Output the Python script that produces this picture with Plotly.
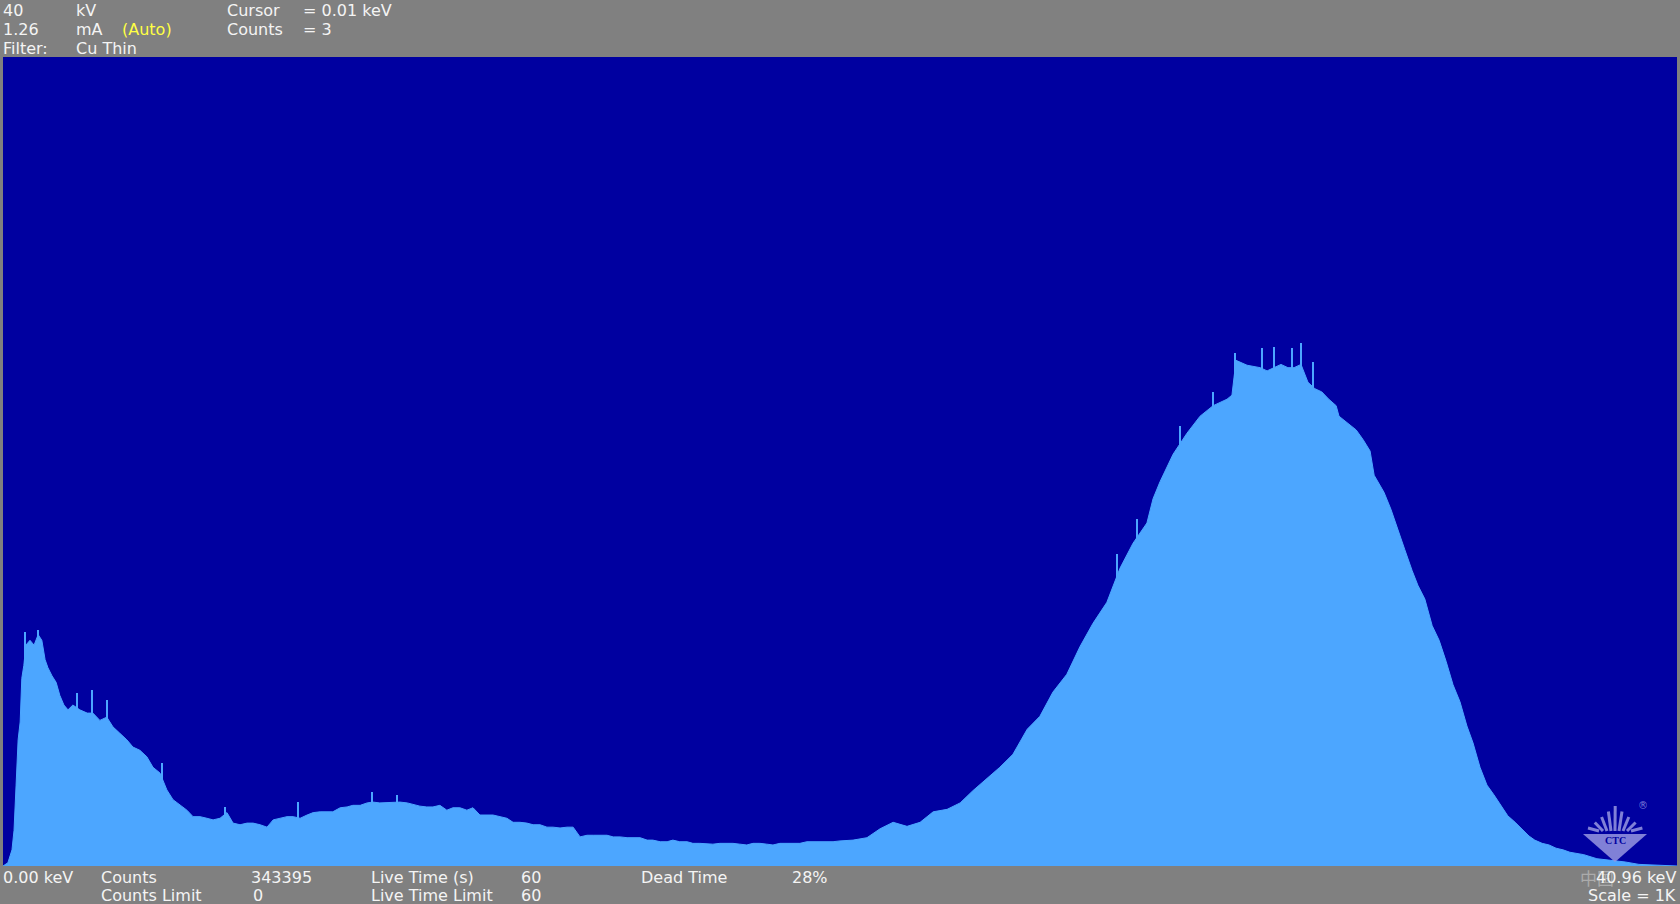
import plotly.graph_objects as go

# ---------------- data (energy in keV, counts per channel) -------------
kev_low = [0.00, 0.12, 0.22, 0.27, 0.32, 0.37, 0.42, 0.46, 0.51, 0.56, 0.66, 0.76, 0.86, 0.95,
           1.03, 1.10, 1.20, 1.30, 1.39, 1.49, 1.59, 1.71, 1.88, 2.06, 2.20, 2.37, 2.54, 2.69,
           2.86, 3.03, 3.18, 3.35, 3.52, 3.67, 3.84, 4.01, 4.16, 4.33, 4.50, 4.65, 4.82, 4.99,
           5.14, 5.31, 5.48, 5.63, 5.80, 5.97, 6.12, 6.29, 6.46, 6.61, 6.78, 6.95, 7.10, 7.27,
           7.44, 7.59, 7.76, 8.07, 8.25, 8.42, 8.56, 8.74, 8.91, 9.05, 9.22, 9.54, 9.71, 9.89]
counts_low = [0, 4, 20, 44, 100, 156, 178, 232, 248, 273, 279, 273, 286, 279,
              255, 245, 235, 227, 211, 199, 193, 199, 193, 189, 189, 180, 184, 172,
              164, 156, 147, 143, 135, 122, 115, 94, 82, 75, 69, 61, 61, 59,
              57, 59, 66, 53, 51, 53, 53, 51, 48, 57, 59, 61, 61, 59,
              63, 66, 67, 67, 72, 73, 75, 75, 78, 79, 78, 79, 79, 78]

kev_mid = [10.20, 10.37, 10.52, 10.69, 10.86, 11.01, 11.18, 11.35, 11.50, 11.67, 11.84, 11.99,
           12.16, 12.33, 12.48, 12.65, 12.82, 12.97, 13.14, 13.31, 13.46, 13.63, 13.80, 13.95,
           14.12, 14.29, 14.44, 14.61, 14.78, 14.93, 15.10, 15.27, 15.41, 15.59, 15.76, 15.90,
           16.08, 16.25, 16.39, 16.56, 16.74, 16.88, 17.05, 17.37, 17.54, 17.71, 17.86, 18.03,
           18.20, 18.35, 18.52, 18.69, 18.84, 19.01, 19.33, 19.50, 19.67, 19.99, 20.31, 20.48]
counts_mid = [74, 73, 73, 75, 69, 72, 72, 69, 72, 63, 63, 63,
              61, 59, 54, 54, 53, 51, 51, 48, 48, 47, 48, 48,
              36, 38, 38, 38, 38, 36, 36, 35, 35, 35, 32, 32,
              30, 30, 32, 30, 30, 28, 28, 27, 28, 28, 28, 27,
              26, 28, 28, 27, 26, 28, 28, 28, 30, 30, 30, 31]

kev_high = [20.80, 21.14, 21.46, 21.78, 22.12, 22.44, 22.76, 23.10, 23.42, 23.73, 24.08, 24.39,
            24.71, 25.06, 25.37, 25.69, 26.03, 26.35, 26.67, 27.01, 27.33, 27.65, 27.99, 28.14,
            28.31, 28.63, 28.97, 29.29, 29.61, 29.95, 30.07, 30.17, 30.44, 30.76, 30.93, 31.10,
            31.27, 31.44, 31.59, 31.76, 31.93, 32.10, 32.27, 32.44, 32.62, 32.69, 32.96, 33.11,
            33.28, 33.45, 33.55, 33.79, 33.96, 34.13, 34.30, 34.48, 34.62, 34.79, 34.97, 35.14,
            35.31, 35.48, 35.65, 35.82, 35.97, 36.14, 36.31, 36.48, 36.65, 36.82, 37.00, 37.17,
            37.34, 37.48, 37.66, 37.83, 38.00, 38.17, 38.34, 38.68, 39.00, 39.34, 39.69, 40.03,
            40.42, 40.96]
counts_high = [32, 35, 46, 54, 49, 54, 67, 70, 78, 93, 109, 122,
               138, 169, 185, 215, 237, 271, 300, 326, 368, 399, 424, 454,
               475, 509, 535, 556, 569, 577, 582, 625, 619, 616, 612, 616,
               620, 616, 616, 620, 598, 590, 586, 577, 569, 556, 545, 539,
               527, 513, 483, 462, 441, 415, 391, 365, 347, 330, 297, 279,
               253, 224, 203, 173, 152, 122, 100, 88, 75, 62, 54, 46,
               37, 32, 28, 26, 22, 20, 17, 14, 9, 7, 5, 2,
               1, 0]

# single noisy channels that stick out above the envelope
spike_kev = [0.54, 0.86, 1.81, 2.18, 2.54, 3.89, 5.43, 7.22, 9.03, 9.64,
             27.26, 27.75, 28.80, 29.61, 30.14, 30.80, 31.10, 31.54, 31.76, 32.05]
spike_counts = [289, 292, 214, 218, 205, 127, 73, 79, 91, 88,
                386, 429, 544, 586, 634, 640, 641, 640, 646, 623]

energy = kev_low + kev_mid + kev_high
counts = counts_low + counts_mid + counts_high

# header / footer text
header_rows = [
    [("40", "w"), ("kV", "w"), ("Cursor", "w"), ("= 0.01 keV", "w")],
    [("1.26", "w"), ("mA", "w"), ("(Auto)", "y"), ("Counts", "w"), ("= 3", "w")],
    [("Filter:", "w"), ("Cu Thin", "w")],
]
footer_row1 = ["0.00 keV", "Counts", "343395", "Live Time (s)", "60", "Dead Time", "28%"]
footer_row2 = ["Counts Limit", "0", "Live Time Limit", "60"]
footer_right = ["40.96 keV", "Scale = 1K"]

# ---------------- styling / layout ----------------
W, H = 1680, 904
L, R, T, B = 3, 1677, 57, 866
GRAY = "#808080"
DARK = "#0000A0"
LIGHT = "#4CA6FF"
WHITE = "#F4F4F4"
YELLOW = "#FFFF44"
FONT = "DejaVu Sans"


def paper(px, py):
    return (px - L) / (R - L), (B - py) / (B - T)


fig = go.Figure()
fig.add_trace(go.Scatter(x=energy, y=counts, mode="lines", fill="tozeroy",
                         line=dict(color=LIGHT, width=1), fillcolor=LIGHT,
                         hoverinfo="skip"))
fig.add_trace(go.Bar(x=spike_kev, y=spike_counts, width=0.05, marker_color=LIGHT,
                     marker_line_width=0, hoverinfo="skip"))

ann = []


def txt(px, py, s, color=WHITE, anchor="left", size=16, family=FONT):
    x, y = paper(px, py)
    ann.append(dict(x=x, y=y, xref="paper", yref="paper", text=s, showarrow=False,
                    xanchor=anchor, yanchor="middle",
                    font=dict(family=family, size=size, color=color)))


header_x = [[3, 76, 227, 303], [3, 76, 122, 227, 303], [3, 76]]
header_y = [10.5, 29.5, 48]
for row, xs, yy in zip(header_rows, header_x, header_y):
    for (s, c), xx in zip(row, xs):
        txt(xx - 2, yy, s, YELLOW if c == "y" else WHITE)

# faint site watermark behind the right-hand footer text
txt(1578, 877, "中国", color="#ABABAB", size=17, family="Noto Sans CJK SC")

for s, xx in zip(footer_row1, [3, 101, 251, 371, 521, 641, 792]):
    txt(xx - 2, 877.5, s)
for s, xx in zip(footer_row2, [101, 253, 371, 521]):
    txt(xx - 2, 895, s)
txt(1678, 877.5, footer_right[0], anchor="right")
txt(1678, 895, footer_right[1], anchor="right")

# faint CTC logo watermark in the bottom-right corner of the spectrum
shapes = []
LOGO = "rgba(150,150,225,0.85)"
tri = [paper(1583, 834), paper(1647, 834), paper(1615, 862)]
shapes.append(dict(type="path", xref="paper", yref="paper",
                   path="M {} {} L {} {} L {} {} Z".format(*tri[0], *tri[1], *tri[2]),
                   fillcolor=LOGO, line=dict(width=0)))
for i in range(9):
    bx = 1599 + i * 4
    tx = 1588 + i * 6.8
    ty = 806 + abs(i - 4) * 5.5
    (x0, y0), (x1, y1) = paper(bx, 831), paper(tx, ty)
    shapes.append(dict(type="line", xref="paper", yref="paper", x0=x0, y0=y0, x1=x1, y1=y1,
                       line=dict(color=LOGO, width=3)))
txt(1615, 840, "<b>CTC</b>", color=DARK, anchor="center", size=10, family="Liberation Serif")
ann[-1]["xanchor"] = "center"
txt(1643, 805, "®", color=LOGO, anchor="center", size=10)
ann[-1]["xanchor"] = "center"

fig.update_layout(
    width=W, height=H,
    margin=dict(l=L, r=W - R, t=T, b=H - B, pad=0),
    paper_bgcolor=GRAY, plot_bgcolor=DARK,
    showlegend=False, bargap=0,
    xaxis=dict(range=[0, 40.96], visible=False, showgrid=False, zeroline=False, fixedrange=True),
    yaxis=dict(range=[0, 1000], visible=False, showgrid=False, zeroline=False, fixedrange=True),
    annotations=ann, shapes=shapes,
)

fig.write_html("out.html", config={"displayModeBar": False},
               post_script="document.body.style.margin='0';document.body.style.overflow='hidden';")
